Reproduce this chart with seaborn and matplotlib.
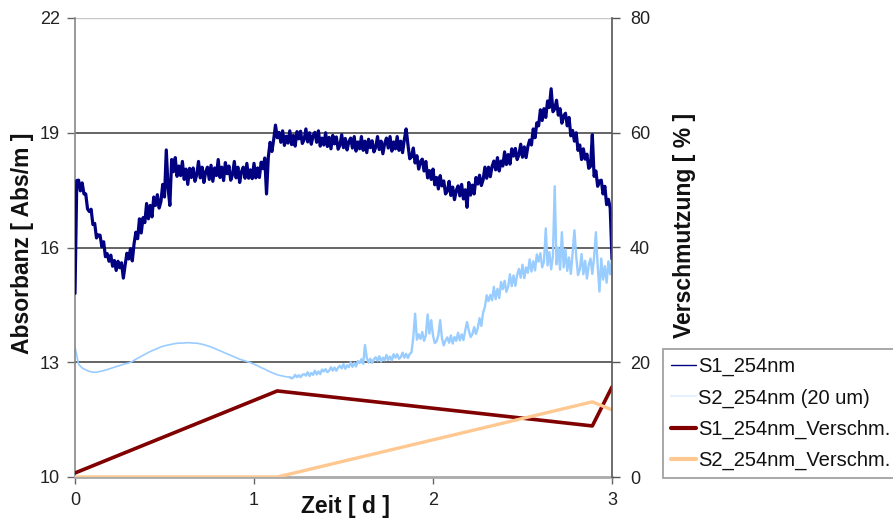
import numpy as np
import pandas as pd
import matplotlib
matplotlib.use("Agg")
import matplotlib.pyplot as plt
from matplotlib.lines import Line2D
import seaborn as sns

# ---------------- data ----------------
# S1_254nm, sampled every 0.01 d from 0 to 3 d
s1_254nm = [
    14.8, 17.75, 17.76, 17.48, 17.69, 17.4, 17.4, 17.01, 16.94, 17.0,
    16.6, 16.63, 16.25, 16.33, 16.32, 16.02, 16.15, 15.76, 15.84, 15.64,
    15.8, 15.51, 15.66, 15.4, 15.64, 15.47, 15.6, 15.2, 15.54, 15.85,
    15.7, 15.97, 15.65, 16.1, 16.4, 16.23, 16.75, 16.38, 16.78, 16.65,
    17.15, 16.75, 17.1, 16.8, 17.32, 17.1, 17.38, 17.03, 17.2, 17.65,
    17.32, 18.55, 17.55, 17.1, 18.3, 17.98, 18.35, 17.86, 18.13, 17.88,
    18.25, 17.78, 18.05, 17.65, 18.07, 17.83, 18.08, 17.73, 17.9, 18.25,
    17.82, 18.1, 17.7, 17.98, 18.1, 17.78, 18.15, 17.73, 18.08, 17.88,
    18.3, 17.83, 18.1, 17.75, 18.22, 17.93, 18.13, 17.76, 17.9, 18.25,
    17.82, 18.1, 17.7, 17.98, 18.1, 17.81, 18.2, 17.81, 18.03, 17.8,
    18.2, 17.82, 18.08, 17.83, 18.23, 18.06, 18.34, 17.4, 18.37, 18.75,
    18.51, 18.82, 19.2, 18.87, 19.01, 18.75, 19.05, 18.67, 18.91, 18.73,
    19.05, 18.69, 18.93, 18.65, 19.03, 18.84, 19.04, 18.72, 18.82, 19.1,
    18.76, 19.0, 18.7, 18.92, 19.01, 18.75, 19.05, 18.65, 18.86, 18.68,
    19.0, 18.64, 18.88, 18.58, 18.93, 18.71, 18.89, 18.57, 18.67, 18.95,
    18.61, 18.85, 18.55, 18.77, 18.86, 18.6, 18.9, 18.52, 18.76, 18.58,
    18.9, 18.54, 18.78, 18.48, 18.83, 18.61, 18.79, 18.5, 18.62, 18.9,
    18.56, 18.78, 18.45, 18.72, 18.86, 18.6, 18.9, 18.52, 18.76, 18.58,
    18.9, 18.54, 18.78, 18.48, 18.83, 19.1, 18.69, 18.32, 18.37, 18.6,
    18.21, 18.4, 18.05, 18.24, 18.31, 18.0, 18.25, 17.82, 18.01, 17.78,
    18.05, 17.64, 17.83, 17.53, 17.88, 17.61, 17.74, 17.4, 17.47, 17.73,
    17.36, 17.58, 17.25, 17.49, 17.61, 17.35, 17.65, 17.27, 17.51, 17.05,
    17.7, 17.37, 17.63, 17.4, 17.83, 17.66, 17.89, 17.62, 17.77, 18.1,
    17.81, 18.1, 17.85, 18.12, 18.26, 18.03, 18.35, 18.0, 18.26, 18.13,
    18.5, 18.17, 18.43, 18.18, 18.58, 18.39, 18.59, 18.3, 18.42, 18.7,
    18.36, 18.63, 18.35, 18.64, 18.81, 18.68, 19.1, 18.87, 19.26, 19.18,
    19.6, 19.32, 19.63, 19.4, 19.83, 19.66, 20.15, 19.55, 19.62, 19.85,
    19.46, 19.63, 19.25, 19.44, 19.51, 19.18, 19.4, 18.92, 19.06, 18.78,
    19.0, 18.54, 18.68, 18.3, 18.58, 18.31, 18.44, 18.07, 18.12, 18.95,
    17.86, 18.0, 17.6, 17.74, 17.76, 17.4, 17.6, 17.12, 17.26, 17.03,
    15.7,
]
# S2_254nm (20 um): smooth part every 0.02 d (0 .. 1.20 d)
s2_254nm_smooth = [
    13.4, 12.95, 12.85, 12.8, 12.76, 12.74, 12.74, 12.76, 12.78, 12.81,
    12.84, 12.87, 12.9, 12.93, 12.96, 12.98, 13.02, 13.08, 13.13, 13.18,
    13.23, 13.28, 13.32, 13.36, 13.4, 13.43, 13.45, 13.47, 13.49, 13.5,
    13.5, 13.51, 13.51, 13.5, 13.5, 13.48, 13.46, 13.43, 13.4, 13.36,
    13.32, 13.28, 13.24, 13.2, 13.16, 13.12, 13.08, 13.05, 13.02, 12.99,
    12.95, 12.91, 12.86, 12.82, 12.77, 12.73, 12.69, 12.66, 12.64, 12.62,
    12.61,
]
# S2_254nm (20 um): noisy part every 0.01 d (1.21 .. 3.00 d)
s2_254nm_noisy = [
    12.58, 12.6, 12.67, 12.61, 12.66, 12.61, 12.67, 12.69, 12.65, 12.74,
    12.64, 12.72, 12.67, 12.78, 12.68, 12.76, 12.69, 12.81, 12.76, 12.82,
    12.74, 12.78, 12.87, 12.78, 12.86, 12.78, 12.86, 12.91, 12.84, 12.95,
    12.83, 12.92, 12.87, 13.0, 12.88, 12.98, 12.89, 13.03, 12.98, 13.08,
    12.96, 13.45, 13.12, 12.99, 13.09, 12.98, 13.08, 13.13, 13.04, 13.16,
    13.02, 13.12, 13.05, 13.19, 13.06, 13.15, 13.05, 13.21, 13.12, 13.21,
    13.09, 13.13, 13.25, 13.12, 13.22, 13.11, 13.22, 13.26, 13.66, 14.27,
    13.59, 13.73, 13.61, 13.79, 13.56, 13.7, 14.25, 13.75, 14.1, 13.7,
    13.5, 13.55, 13.71, 14.1, 13.63, 13.44, 13.57, 13.65, 13.51, 13.7,
    13.49, 13.66, 13.56, 13.77, 13.57, 13.73, 13.58, 13.83, 14.05, 13.83,
    13.66, 13.73, 13.92, 13.74, 13.89, 14.15, 13.95, 14.3, 14.45, 14.75,
    14.6, 14.76, 14.62, 14.97, 14.65, 14.92, 14.68, 15.1, 14.91, 15.13,
    14.84, 14.98, 15.3, 14.99, 15.27, 15.0, 15.28, 15.44, 15.21, 15.55,
    15.2, 15.48, 15.34, 15.69, 15.37, 15.64, 15.4, 15.82, 15.63, 15.85,
    15.48, 15.63, 16.5, 15.53, 15.88, 15.43, 15.78, 17.6, 15.56, 16.0,
    15.42, 16.4, 15.48, 15.95, 15.39, 15.74, 15.31, 15.86, 16.45, 15.78,
    15.28, 15.42, 15.83, 15.3, 15.65, 15.19, 15.54, 15.71, 15.31, 15.75,
    16.4, 15.52, 14.85, 15.71, 15.16, 15.51, 15.08, 15.64, 15.3, 15.7,
]
verschm_days = [0.0, 1.13, 2.89, 3.0]
s1_verschm = [0.7, 15.0, 8.9, 15.7]
s2_verschm = [0.0, 0.0, 13.1, 11.7]

x_ticks = [0, 1, 2, 3]
left_ticks = [10, 13, 16, 19, 22]
right_ticks = [0, 20, 40, 60, 80]

labels = ["S1_254nm", "S2_254nm (20 um)", "S1_254nm_Verschm.", "S2_254nm_Verschm."]
colors = ["#000080", "#99CCFF", "#800000", "#FFC890"]

s1_days = np.linspace(0, 3, len(s1_254nm))
s2_smooth_days = np.linspace(0, 1.2, len(s2_254nm_smooth))
s2_noisy_days = np.linspace(1.21, 3.0, len(s2_254nm_noisy))
df_s1 = pd.DataFrame({"t": s1_days, "v": s1_254nm})
df_s2a = pd.DataFrame({"t": s2_smooth_days, "v": s2_254nm_smooth})
df_s2b = pd.DataFrame({"t": np.concatenate([[1.2], s2_noisy_days]),
                       "v": [s2_254nm_smooth[-1]] + s2_254nm_noisy})
df_v = pd.DataFrame({"t": verschm_days, "S1v": s1_verschm, "S2v": s2_verschm})

# ---------------- style ----------------
sns.set_style("white")
plt.rcParams["font.family"] = ["Liberation Sans", "DejaVu Sans"]

fig = plt.figure(figsize=(8.93, 5.2), dpi=100)
ax = fig.add_axes([75 / 893, 1 - 477 / 520, 537 / 893, 459 / 520])
ax2 = ax.twinx()

# horizontal gridlines (main axis)
for v in [13, 16, 19]:
    ax.axhline(v, color="#3a3a3a", lw=1.1, zorder=0)
ax.axhline(22, color="#c8c8c8", lw=1.0, zorder=0)

sns.lineplot(data=df_s2a, x="t", y="v", ax=ax, color=colors[1], lw=1.2,
             estimator=None, sort=False, zorder=2)
sns.lineplot(data=df_s2b, x="t", y="v", ax=ax, color=colors[1], lw=1.7,
             estimator=None, sort=False, zorder=2)
sns.lineplot(data=df_s1, x="t", y="v", ax=ax, color=colors[0], lw=2.3,
             estimator=None, sort=False, zorder=3)
sns.lineplot(data=df_v, x="t", y="S1v", ax=ax2, color=colors[2], lw=2.6,
             estimator=None, sort=False)
sns.lineplot(data=df_v, x="t", y="S2v", ax=ax2, color=colors[3], lw=2.4,
             estimator=None, sort=False)

ax.set_xlim(0, 3)
ax.set_ylim(10, 22)
ax2.set_ylim(0, 80)
ax.set_xticks(x_ticks)
ax.set_yticks(left_ticks)
ax2.set_yticks(right_ticks)
ax.set_xticklabels([str(v) for v in x_ticks])
ax.set_yticklabels([str(v) for v in left_ticks])
ax2.set_yticklabels([str(v) for v in right_ticks])

tick_col = "#222222"
ax.tick_params(axis="y", direction="out", length=6, width=1, color="#666666",
               labelsize=13, labelcolor=tick_col, pad=5, left=True)
ax.tick_params(axis="x", direction="out", length=5, width=1, color="#666666",
               labelsize=13, labelcolor=tick_col, pad=6, bottom=True)
ax2.tick_params(axis="y", direction="out", length=6, width=1, color="#555555",
                labelsize=13, labelcolor=tick_col, pad=7, right=True)

for a in (ax, ax2):
    a.spines["top"].set_visible(False)
    a.set_facecolor("none")
ax.spines["left"].set_color("#888888")
ax.spines["left"].set_linewidth(1.2)
ax.spines["bottom"].set_color("#aaaaaa")
ax.spines["bottom"].set_linewidth(2.0)
ax.spines["right"].set_visible(False)
ax2.spines["left"].set_visible(False)
ax2.spines["bottom"].set_visible(False)
ax2.spines["right"].set_color("#555555")
ax2.spines["right"].set_linewidth(1.2)

lab_kw = dict(fontsize=16.5, fontweight="bold", color="#111111")
ax.set_xlabel("Zeit [ d ]", **lab_kw)
ax.set_ylabel("Absorbanz [ Abs/m ]", **lab_kw)
ax2.set_ylabel("Verschmutzung [ % ]", rotation=90, **lab_kw)
ax.xaxis.set_label_coords((345 - 75) / 537, -(495 - 477) / 459)
ax.yaxis.set_label_coords((23 - 75) / 537, (477 - 243) / 459)
ax.yaxis.label.set_verticalalignment("center")
ax2.yaxis.set_label_coords((684 - 75) / 537, (477 - 225) / 459)
ax2.yaxis.label.set_verticalalignment("center")

handles = [
    Line2D([], [], color=colors[0], lw=1.0),
    Line2D([], [], color="#e4f1ff", lw=1.5),
    Line2D([], [], color=colors[2], lw=3.0),
    Line2D([], [], color=colors[3], lw=3.0),
]
leg = fig.legend(handles, labels, loc="upper left",
                 bbox_to_anchor=(663 / 893, 1 - 349 / 520),
                 bbox_transform=fig.transFigure,
                 fontsize=14.5, frameon=True, fancybox=False,
                 handlelength=1.25, handletextpad=0.1, labelspacing=0.6,
                 borderpad=0.4, borderaxespad=0)
leg.get_frame().set_edgecolor("#8a8a8a")
leg.get_frame().set_linewidth(1.3)
for txt in leg.get_texts():
    txt.set_color("#111111")

fig.savefig("out.png", dpi=100)
